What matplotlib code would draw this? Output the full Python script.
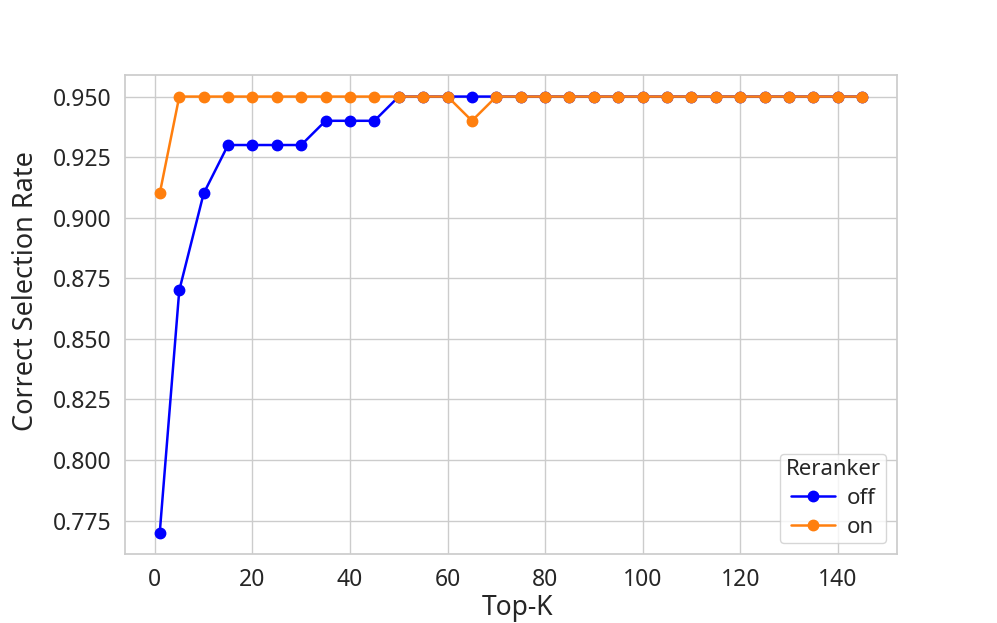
import matplotlib
matplotlib.use("Agg")
import matplotlib.pyplot as plt
import seaborn as sns

# Top-K values and correct selection rates
top_k = [1, 5, 10, 15, 20, 25, 30, 35, 40, 45, 50, 55, 60, 65, 70, 75, 80,
         85, 90, 95, 100, 105, 110, 115, 120, 125, 130, 135, 140, 145]
rate_off = [0.77, 0.87, 0.91, 0.93, 0.93, 0.93, 0.93, 0.94, 0.94, 0.94,
            0.95, 0.95, 0.95, 0.95, 0.95, 0.95, 0.95, 0.95, 0.95, 0.95,
            0.95, 0.95, 0.95, 0.95, 0.95, 0.95, 0.95, 0.95, 0.95, 0.95]
rate_on = [0.91, 0.95, 0.95, 0.95, 0.95, 0.95, 0.95, 0.95, 0.95, 0.95,
           0.95, 0.95, 0.95, 0.94, 0.95, 0.95, 0.95, 0.95, 0.95, 0.95,
           0.95, 0.95, 0.95, 0.95, 0.95, 0.95, 0.95, 0.95, 0.95, 0.95]

sns.set_theme(style="whitegrid", font_scale=1.3)
plt.rcParams['font.family'] = ['Noto Sans', 'DejaVu Sans']

fig, ax = plt.subplots(figsize=(9.97, 6.23), dpi=100)

ax.plot(top_k, rate_off, marker='o', color='blue', label='off', lw=1.8, markersize=7.5)
ax.plot(top_k, rate_on, marker='o', color='#ff7f0e', label='on', lw=1.8, markersize=7.5)

ax.set_xlabel('Top-K', fontsize=19, labelpad=2)
ax.set_ylabel('Correct Selection Rate', fontsize=19.5, labelpad=9)
ax.xaxis.label.set_x(0.508)
ax.yaxis.label.set_y(0.55)
ax.set_xticks(range(0, 141, 20))
ax.tick_params(labelsize=16.5)
ax.legend(title='Reranker', loc='lower right', fontsize=16, title_fontsize=16,
          handlelength=2.0, handletextpad=0.5, borderpad=0.25, labelspacing=0.35,
          borderaxespad=0.5)

fig.savefig('out.png', dpi=100)
